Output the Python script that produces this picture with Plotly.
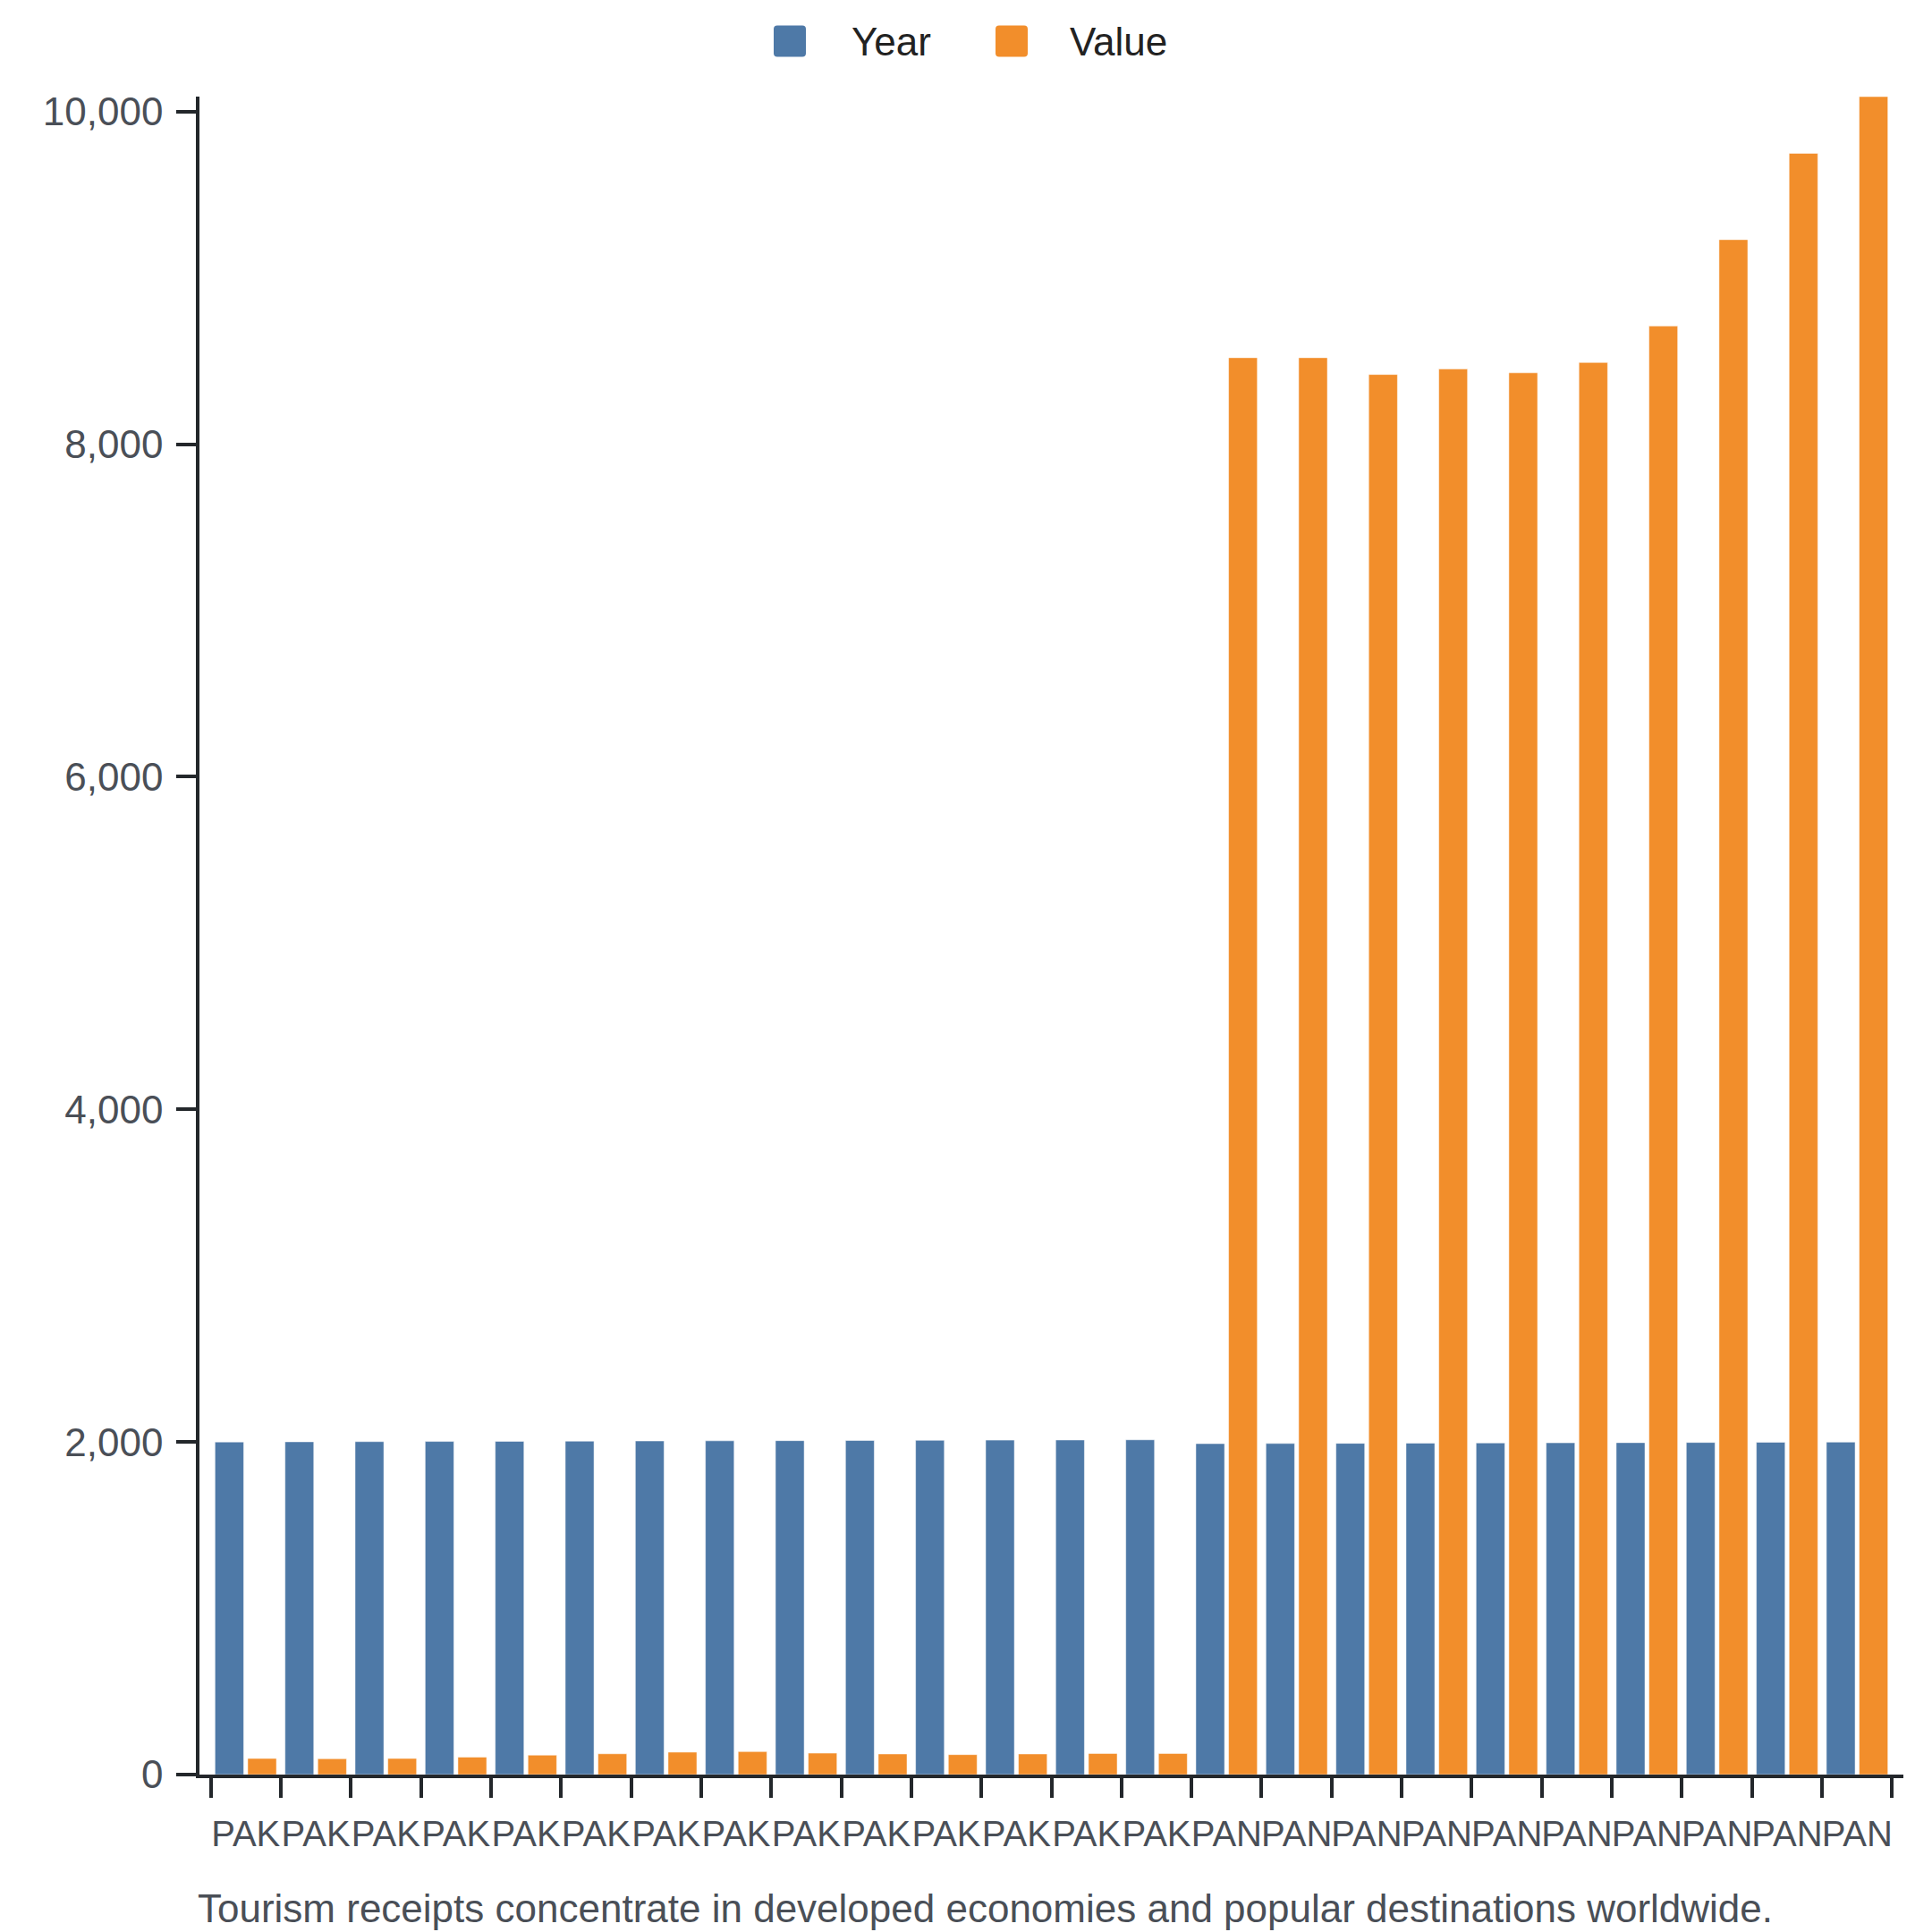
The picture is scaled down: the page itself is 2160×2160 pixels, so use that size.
import plotly.graph_objects as go

# ---- data ----
countries = ["PAK"] * 14 + ["PAN"] * 10
years = [2000, 2001, 2002, 2003, 2004, 2005, 2006, 2007, 2008, 2009, 2010, 2011, 2012, 2013,
         1990, 1991, 1992, 1993, 1994, 1995, 1996, 1997, 1998, 1999]
values = [97, 95, 97, 105, 117, 125, 135, 138, 129, 124, 120, 124, 127, 127,
          8520, 8520, 8419, 8452, 8429, 8491, 8710, 9230, 9749, 10090]
y_ticks = [0, 2000, 4000, 6000, 8000, 10000]
caption = "Tourism receipts concentrate in developed economies and popular destinations worldwide."

BLUE = "#4e79a7"
ORANGE = "#f28e2b"
AXIS = "#23272b"
TICKTXT = "#4a4f57"
FONT = "Liberation Sans, Arial, Helvetica, sans-serif"
FS = 44
XFS = 40

W = H = 2160
ML, MR, MT, MB = 215, 40, 100, 184
PW = W - ML - MR
PH = H - MT - MB


def px(x):
    return (x - ML) / PW


def py(y):
    return (H - MB - y) / PH


n = len(countries)
xpos = list(range(n))
pad = 0.16

fig = go.Figure()
fig.add_trace(go.Bar(x=xpos, y=years, name="Year",
                     marker=dict(color=BLUE, line=dict(color="rgba(255,255,255,0.5)", width=1)),
                     showlegend=False))
fig.add_trace(go.Bar(x=xpos, y=values, name="Value",
                     marker=dict(color=ORANGE, line=dict(color="rgba(255,255,255,0.5)", width=1)),
                     showlegend=False))

boundaries = [i - 0.5 for i in range(n + 1)]

fig.update_layout(
    width=W, height=H,
    margin=dict(l=ML, r=MR, t=MT, b=MB),
    paper_bgcolor="white", plot_bgcolor="white",
    barmode="group", bargap=0.065, bargroupgap=0.123,
    font=dict(family=FONT, size=FS, color=TICKTXT),
    xaxis=dict(
        range=[-0.5 - pad, n - 0.5 + pad],
        tickmode="array", tickvals=xpos, ticktext=countries, tickangle=0,
        ticks="outside", ticklen=22, tickcolor="rgba(0,0,0,0)", tickwidth=3,
        ticklabelstandoff=6,
        showline=True, linecolor=AXIS, linewidth=3.5,
        showgrid=False, zeroline=False,
        tickfont=dict(size=XFS, color=TICKTXT),
        minor=dict(tickmode="array", tickvals=boundaries, ticks="outside", ticklen=22,
                   tickcolor=AXIS, tickwidth=3.5, showgrid=False),
    ),
    yaxis=dict(
        range=[0, max(values)],
        tickmode="array", tickvals=y_ticks, tickformat=",d",
        ticks="outside", ticklen=22, tickcolor=AXIS, tickwidth=3.5,
        showline=True, linecolor=AXIS, linewidth=3.5,
        showgrid=False, zeroline=False,
        tickfont=dict(size=FS, color=TICKTXT),
        ticklabelstandoff=6,
    ),
)


def rounded_square(x0, y0, x1, y1, r):
    # pixel coords -> paper-coord path with rounded corners
    def P(x, y):
        return f"{px(x):.6f},{py(y):.6f}"
    return (f"M{P(x0 + r, y0)} L{P(x1 - r, y0)} Q{P(x1, y0)} {P(x1, y0 + r)} "
            f"L{P(x1, y1 - r)} Q{P(x1, y1)} {P(x1 - r, y1)} L{P(x0 + r, y1)} "
            f"Q{P(x0, y1)} {P(x0, y1 - r)} L{P(x0, y0 + r)} Q{P(x0, y0)} {P(x0 + r, y0)} Z")


legend_items = [("Year", BLUE, 857, 942), ("Value", ORANGE, 1105, 1186)]
for label, color, sx, tx in legend_items:
    fig.add_shape(type="path", xref="paper", yref="paper",
                  path=rounded_square(sx, 20.5, sx + 36, 55.5, 4),
                  fillcolor=color, line=dict(width=0), layer="above")
    fig.add_annotation(xref="paper", yref="paper", x=px(tx), y=py(38), text=label,
                       showarrow=False, xanchor="left", yanchor="middle",
                       font=dict(family=FONT, size=FS, color="#222222"))

fig.add_annotation(xref="paper", yref="paper", x=px(211), y=py(2125), text=caption,
                   showarrow=False, xanchor="left", yanchor="middle",
                   font=dict(family=FONT, size=FS, color=TICKTXT))

fig.write_html("out.html")
